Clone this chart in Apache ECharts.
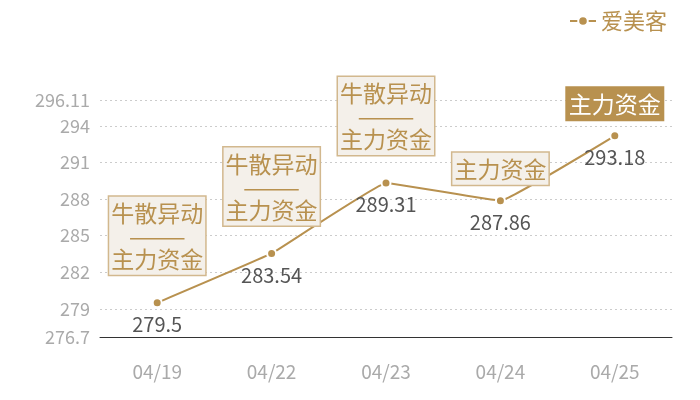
<!DOCTYPE html>
<html><head><meta charset="utf-8">
<script src="https://cdn.jsdelivr.net/npm/echarts@6/dist/echarts.min.js"></script>
<style>html,body{margin:0;padding:0;background:#fff}#c{width:700px;height:400px}</style>
</head><body><div id="c"></div>
<script>
const categories = ['04/19','04/22','04/23','04/24','04/25'];
const values = [279.5, 283.54, 289.31, 287.86, 293.18];
const notes = ['牛散异动\n———\n主力资金','牛散异动\n———\n主力资金','牛散异动\n———\n主力资金','主力资金','主力资金'];
const highlight = [false,false,false,false,true];
const yTicks = [276.7, 279, 282, 285, 288, 291, 294, 296.11];
const seriesName = '爱美客';

const gold = '#b8914f';
const font = '"Noto Sans CJK SC", "Noto Sans", sans-serif';

const noteData = values.map((v, i) => {
  const two = notes[i].indexOf('\n') >= 0;
  return {
    value: v,
    label: {
      distance: two ? 28 : 16,
      backgroundColor: highlight[i] ? gold : '#f4f0ea',
      borderColor: highlight[i] ? gold : '#d2b88e',
      color: highlight[i] ? '#fff' : gold
    }
  };
});

const chart = echarts.init(document.getElementById('c'));
chart.setOption({
  textStyle: { fontFamily: font },
  animation: false,
  legend: {
    right: 28, top: 5,
    itemWidth: 26, itemHeight: 12, itemGap: 5,
    textStyle: { color: gold, fontSize: 22, fontFamily: font },
    data: [seriesName]
  },
  grid: { left: 100, right: 28, top: 100, bottom: 63 },
  xAxis: {
    type: 'category',
    data: categories,
    axisLine: { lineStyle: { color: '#333', width: 1 } },
    axisTick: { show: false },
    axisLabel: { color: '#aaa', fontSize: 19, margin: 25, fontFamily: font }
  },
  yAxis: {
    type: 'value',
    min: yTicks[0], max: yTicks[yTicks.length - 1],
    axisLine: { show: false },
    axisTick: { show: false, customValues: yTicks },
    axisLabel: { color: '#aaa', fontSize: 18, margin: 10, fontFamily: font, customValues: yTicks },
    splitLine: { show: true, lineStyle: { color: '#ccc', type: [2, 3] } }
  },
  series: [{
    name: seriesName,
    type: 'line',
    data: values,
    smooth: 0.06,
    color: gold,
    lineStyle: { color: gold, width: 2 },
    symbol: 'circle', symbolSize: 9,
    itemStyle: { color: gold, borderColor: '#fff', borderWidth: 2 },
    label: { show: true, position: 'bottom', distance: 6, color: '#555', fontSize: 20, fontFamily: font },
    z: 3
  }, {
    name: 'notes',
    type: 'line',
    data: noteData,
    symbol: 'circle',
    symbolSize: 0.01,
    showSymbol: true,
    itemStyle: { color: 'rgba(0,0,0,0)' },
    lineStyle: { opacity: 0 },
    silent: true,
    z: 4,
    label: {
      show: true, position: 'top',
      formatter: p => notes[p.dataIndex],
      fontSize: 23, lineHeight: 23, fontFamily: font,
      borderWidth: 1.5, padding: [5, 2, 4, 2], align: 'center'
    }
  }]
});
</script></body></html>
